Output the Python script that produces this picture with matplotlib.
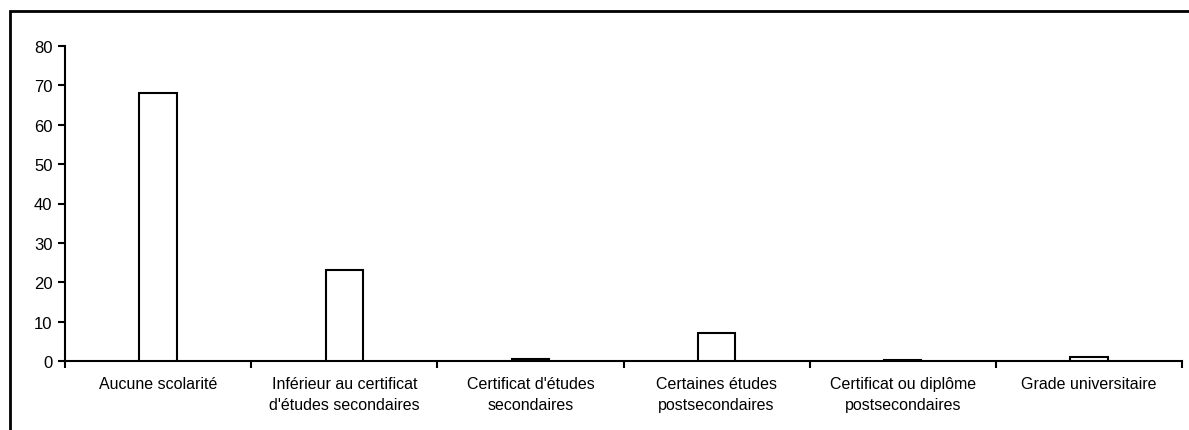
import numpy as np
import matplotlib
matplotlib.use('Agg')
import matplotlib.pyplot as plt
from matplotlib.patches import Rectangle

categories = ['Aucune scolarité',
              'Inférieur au certificat\nd\'études secondaires',
              'Certificat d\'études\nsecondaires',
              'Certaines études\npostsecondaires',
              'Certificat ou diplôme\npostsecondaires',
              'Grade universitaire']
values = [68, 23, 0.6, 7, 0.3, 1.1]
yticks = [0, 10, 20, 30, 40, 50, 60, 70, 80]

plt.rcParams['font.family'] = ['Liberation Sans', 'DejaVu Sans']

fig = plt.figure(figsize=(11.89, 4.31), dpi=100)
ax = fig.add_axes([65/1189, 1-362/431, (1182-65)/1189, (362-47)/431])

x = np.arange(len(categories))
ax.bar(x, values, width=0.2, color='white', edgecolor='black', linewidth=1.5, zorder=3)

ax.set_xlim(-0.5, len(categories)-0.5)
ax.set_ylim(0, 80)
ax.set_yticks(yticks)
ax.set_yticklabels([str(v) for v in yticks], fontsize=12)

# ticks between categories
ax.set_xticks(np.arange(len(categories)+1)-0.5)
ax.set_xticklabels([])
ax.set_xticks(x, minor=True)
ax.set_xticklabels(categories, minor=True, fontsize=11.5, linespacing=1.45)
ax.tick_params(axis='x', which='minor', length=0, pad=11)
ax.tick_params(axis='x', which='major', length=5, width=1.5, direction='out')
ax.tick_params(axis='y', length=5, width=1.5, direction='out', pad=4)

for s in ['top', 'right']:
    ax.spines[s].set_visible(False)
for s in ['left', 'bottom']:
    ax.spines[s].set_linewidth(1.5)

# outer frame
fig.patches.append(Rectangle((10/1189, -0.1), 1.1, 1-12/431+0.1, transform=fig.transFigure,
                             fill=False, edgecolor='black', linewidth=2, clip_on=False))

fig.savefig('out.png', dpi=100)
